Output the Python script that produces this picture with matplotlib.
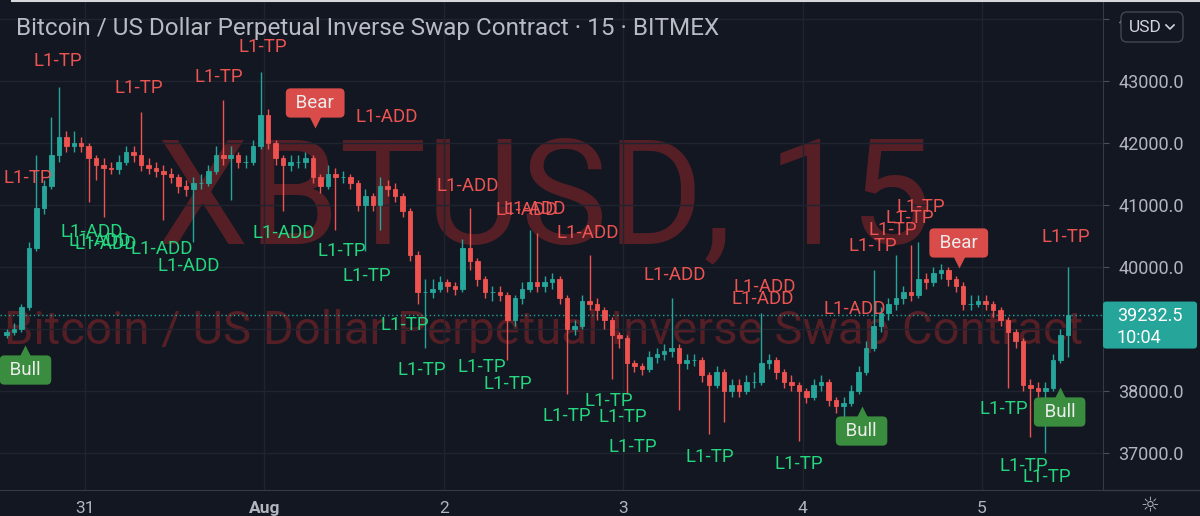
import numpy as np
import matplotlib.pyplot as plt
from matplotlib.patches import FancyBboxPatch
from matplotlib.lines import Line2D
from matplotlib.transforms import IdentityTransform

plt.rcParams['font.family'] = ['Roboto', 'DejaVu Sans']

# hourly candles, x = hours from Jul 31 00:00 (first candle Jul 30 13:00)
close = [38950, 39000, 39350, 40300, 40950, 41300, 41800, 42100, 41950, 42000,
         41950, 41750, 41650, 41600, 41580, 41700, 41850, 41800, 41650, 41600,
         41550, 41500, 41450, 41300, 41250, 41350, 41350, 41550, 41800, 41750,
         41800, 41700, 41700, 41950, 42450, 42000, 41750, 41650, 41700, 41700,
         41750, 41450, 41300, 41500, 41450, 41450, 41350, 41000, 41150, 41000,
         41300, 41250, 41150, 40900, 40200, 39600, 39600, 39650, 39750, 39700,
         39650, 40300, 40100, 39800, 39600, 39600, 39550, 39150, 39500, 39650,
         39750, 39700, 39750, 39800, 39500, 39000, 39050, 39450, 39400, 39300,
         39150, 38900, 38850, 38450, 38400, 38350, 38550, 38600, 38650, 38700,
         38450, 38500, 38500, 38250, 38100, 38300, 38000, 38100, 38000, 38150,
         38150, 38450, 38500, 38300, 38150, 38100, 38000, 37900, 38100, 38150,
         37850, 37750, 37800, 38000, 38300, 38700, 39050, 39250, 39400, 39500,
         39600, 39550, 39800, 39750, 39900, 39950, 39800, 39700, 39400, 39400,
         39450, 39400, 39300, 39150, 38950, 38800, 38100, 38050, 38000, 38050,
         38500, 38900, 39232.5]
high = [39000, 39100, 39400, 40400, 41800, 41400, 42420, 42900, 42200, 42200,
        42100, 42000, 41800, 41750, 41700, 41800, 41950, 41950, 42500, 41750,
        41700, 41650, 41600, 41500, 41400, 41450, 41500, 41650, 41950, 42700,
        41950, 41850, 41800, 42050, 43150, 42550, 42050, 41800, 41800, 41800,
        41850, 41800, 41500, 41650, 41600, 41550, 41500, 41400, 41250, 41200,
        41450, 41400, 41350, 41200, 40950, 40250, 39800, 39800, 39850, 39800,
        39750, 40450, 40950, 40150, 39850, 39700, 39700, 39600, 39550, 39750,
        40600, 40550, 39850, 39900, 39850, 39550, 39150, 39550, 40200, 39500,
        39350, 39200, 38950, 38900, 38500, 38450, 38650, 38700, 38750, 39500,
        38750, 38600, 38600, 38550, 38300, 38400, 38350, 38200, 38200, 38250,
        38300, 39250, 38600, 38550, 38350, 38250, 38150, 38050, 38200, 38250,
        38200, 37900, 37900, 38100, 38400, 38800, 39950, 39350, 39500, 40200,
        39700, 40350, 40400, 39900, 40000, 40050, 40000, 39850, 39750, 39550,
        39550, 39550, 39450, 39350, 39200, 39000, 38850, 38200, 38150, 38150,
        38600, 39000, 40000]
low = [38850, 38900, 38950, 39300, 40250, 40850, 41250, 41700, 41850, 41850,
       41850, 41050, 41400, 40800, 41500, 41500, 41650, 41700, 41550, 41500,
       41450, 40750, 41350, 41200, 41150, 40400, 41250, 41300, 41500, 41650,
       41080, 41600, 41600, 41650, 41900, 41900, 41650, 40900, 41550, 41600,
       41600, 41350, 41200, 41250, 40600, 41350, 41250, 40900, 40250, 40900,
       40600, 41150, 41050, 40800, 40100, 39400, 38700, 39500, 39600, 39600,
       39550, 39600, 39950, 39700, 39500, 39450, 39450, 38500, 39050, 39400,
       39600, 39600, 39600, 39650, 39400, 37950, 38900, 39000, 39300, 39150,
       39000, 38200, 38700, 37950, 38300, 38250, 38300, 38450, 38500, 38550,
       37700, 38350, 38400, 38150, 37300, 38050, 37500, 37900, 37900, 37950,
       38050, 38100, 38350, 38200, 38050, 38000, 37200, 37800, 37850, 38000,
       37750, 37650, 37550, 37750, 37950, 38250, 38650, 38950, 39150, 39300,
       39400, 39450, 39500, 39650, 39700, 39800, 39700, 39600, 39300, 39300,
       39350, 39300, 39200, 39050, 38050, 38700, 38000, 37250, 37900, 37000,
       38000, 38450, 38550]
first_open = 38900
hour0 = -10.5

price_ticks = [37000, 38000, 39000, 40000, 41000, 42000, 43000, 44000]
day_ticks = [0, 24, 48, 72, 96, 120]
day_labels = ['31', 'Aug', '2', '3', '4', '5']

# strategy labels (hour, price, text)
red_x = [23.8, -3.6, 7.2, 17.9, -7.6, 40.4, 51.2, 59.1, 60.2, 67.2, 78.9, 91.0, 90.7,
         103.0, 105.4, 108.1, 110.4, 111.8, 131.2]
red_y = [43548, 43323, 42887, 43065, 41435, 42419, 41306, 40919, 40935, 40548, 39871,
         39677, 39484, 39322, 40339, 40597, 40790, 40968, 40484]
red_t = ['L1-TP', 'L1-TP', 'L1-TP', 'L1-TP', 'L1-TP', 'L1-ADD', 'L1-ADD', 'L1-ADD', 'L1-ADD',
         'L1-ADD', 'L1-ADD', 'L1-ADD', 'L1-ADD', 'L1-ADD', 'L1-TP', 'L1-TP', 'L1-TP', 'L1-TP',
         'L1-TP']
green_x = [0.9, 2.0, 2.8, 10.3, 13.9, 26.6, 34.4, 37.7, 42.8, 45.1, 53.1, 56.6, 64.5,
           70.1, 72.0, 73.3, 83.6, 95.5, 122.9, 125.6, 128.7]
green_y = [40564, 40419, 40371, 40290, 40016, 40548, 40258, 39855, 39064, 38339, 38387,
           38113, 37596, 37838, 37580, 37097, 36935, 36822, 37709, 36790, 36613]
green_t = ['L1-ADD', 'L1-ADD', 'L1-ADD', 'L1-ADD', 'L1-ADD', 'L1-ADD', 'L1-TP', 'L1-TP',
           'L1-TP', 'L1-TP', 'L1-TP', 'L1-TP', 'L1-TP', 'L1-TP', 'L1-TP', 'L1-TP', 'L1-TP',
           'L1-TP', 'L1-TP', 'L1-TP', 'L1-TP']

# Bull / Bear signals: box centre and pointer position
sig_t = ['Bear', 'Bear', 'Bull', 'Bull', 'Bull']
sig_x = [30.8, 116.9, -7.96, 103.9, 130.4]
sig_y = [42645, 40387, 38338, 37354, 37661]
sig_py = [42339, 40080, 38645, 37661, 37968]

W, H = 1200, 516
BG = '#131722'
UP = '#26a69a'
DOWN = '#ef5350'
TXT = '#b2b5be'
LINE = '#363a45'
WM = '#561f26'

close = np.array(close, dtype=float)
high = np.array(high, dtype=float)
low = np.array(low, dtype=float)
opens = np.r_[first_open, close[:-1]]
x = hour0 + np.arange(len(close))
cols = np.where(close >= opens, UP, DOWN)

fig = plt.figure(figsize=(W / 100, H / 100), dpi=100)
fig.patch.set_facecolor(BG)
ax = fig.add_axes([0, 26 / H, 1103 / W, 490 / H])
ax.set_facecolor(BG)
ax.set_xlim(-11.37, 136.2)
ax.set_ylim(36403, 44306)

# grid & axes
ax.set_yticks(price_ticks)
ax.set_yticklabels([f'{p:.1f}' for p in price_ticks])
ax.yaxis.tick_right()
ax.set_xticks(day_ticks)
ax.set_xticklabels(day_labels)
ax.get_xticklabels()[1].set_fontweight('bold')
ax.tick_params(axis='y', colors='#4a4e59', labelcolor=TXT, labelsize=13, length=4, pad=7)
ax.tick_params(axis='x', colors=TXT, labelsize=12.5, length=0, pad=8)
ax.grid(True, color='#20242f', lw=1, zorder=0)
for s in ['top', 'left']:
    ax.spines[s].set_visible(False)
for s in ['right', 'bottom']:
    ax.spines[s].set_color(LINE)
fig.add_artist(Line2D([1103 / W, 1], [26 / H, 26 / H], color=LINE, lw=1))

# watermarks
ax.text(0.494, 0.504, 'XBTUSD, 15', transform=ax.transAxes, ha='center', va='baseline',
        fontsize=105, color=WM, zorder=1)
ax.text(4 / 1103, 1 - 344 / 490, 'Bitcoin / US Dollar Perpetual Inverse Swap Contract',
        transform=ax.transAxes, ha='left', va='baseline', fontsize=34,
        color=WM, zorder=1, clip_on=True)

# candles
ax.vlines(x, low, high, colors=cols, lw=1, zorder=3)
ax.bar(x, np.abs(close - opens), bottom=np.minimum(opens, close), width=0.6,
       color=cols, edgecolor=cols, linewidth=0.6, zorder=4)

# last price line
last = close[-1]
ax.axhline(last, color=UP, ls=(0, (1, 2)), lw=1, zorder=2)

# labels
for xi, yi, t in zip(red_x, red_y, red_t):
    ax.text(xi, yi, t, color='#ec5452', fontsize=13.5, ha='center', va='center', zorder=6)
for xi, yi, t in zip(green_x, green_y, green_t):
    ax.text(xi, yi, t, color='#24d67e', fontsize=13.5, ha='center', va='center', zorder=6)

for t, xi, yi, pyi in zip(sig_t, sig_x, sig_y, sig_py):
    fc = '#d94c4a' if t == 'Bear' else '#3a8d3e'
    ax.text(xi, yi, ' ' + t + ' ', color='#ececec', fontsize=13.5, ha='center', va='center',
            zorder=8, bbox=dict(boxstyle='round,pad=0.3,rounding_size=0.25', fc=fc, ec='none'))
    ax.plot(xi, pyi, marker='v' if t == 'Bear' else '^', ms=9, color=fc, mec='none', zorder=7)

# title
fig.text(16 / W, 1 - 35 / H, 'Bitcoin / US Dollar Perpetual Inverse Swap Contract \u00b7 15 \u00b7 BITMEX',
         color='#b8bbc4', fontsize=17.5, va='baseline', ha='left')
fig.add_artist(Line2D([12 / W, 1], [1 - 0.8 / H, 1 - 0.8 / H], color='#d8d8dc', lw=1.5))

# last price box on price scale
yd = ax.transData.transform((0, last))[1]
box = FancyBboxPatch((1103, yd - 34), 94, 47, boxstyle='round,pad=0,rounding_size=3',
                     fc=UP, ec='none', transform=IdentityTransform(), zorder=5)
fig.add_artist(box)
fig.text(1117 / W, (yd - 1) / H, f'{last:.1f}', color='white', fontsize=13, va='center', ha='left', zorder=6)
fig.text(1117 / W, (yd - 23) / H, '10:04', color='white', fontsize=13, va='center', ha='left', zorder=6)

# currency button
usd = FancyBboxPatch((1121, H - 42), 62, 30, boxstyle='round,pad=0,rounding_size=6',
                     fc=BG, ec='#434651', lw=1, transform=IdentityTransform(), zorder=5)
fig.add_artist(usd)
fig.text(1129 / W, 1 - 27 / H, 'USD', color='#d1d4dc', fontsize=12.5, va='center', ha='left', zorder=6)
fig.add_artist(Line2D([1166 / W, 1170 / W, 1174 / W], [1 - 25 / H, 1 - 29 / H, 1 - 25 / H],
                      color='#d1d4dc', lw=1.2, zorder=6))

# settings icon
fig.text(1150 / W, 1 - 505 / H, '\u263c', family='DejaVu Sans', color=TXT, fontsize=15,
         ha='center', va='center')

fig.savefig('out.png', dpi=100, facecolor=BG)
